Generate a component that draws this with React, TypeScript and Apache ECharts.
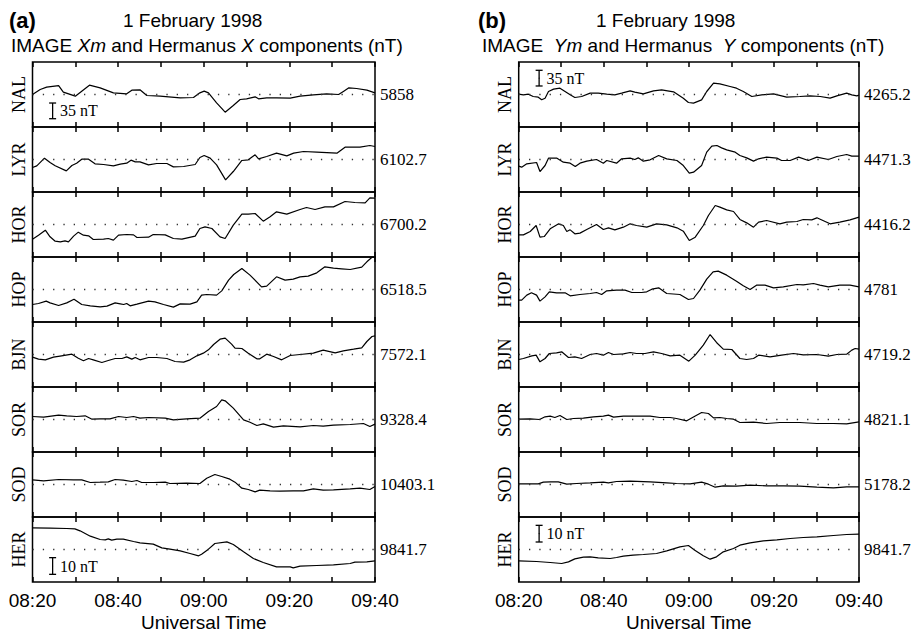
import React, { useEffect, useRef } from 'react';
import * as echarts from 'echarts';

// Station names and baseline values (nT) shown at the right of each strip
const STATIONS = ['NAL', 'LYR', 'HOR', 'HOP', 'BJN', 'SOR', 'SOD', 'HER'];
const BASE_X = ['5858', '6102.7', '6700.2', '6518.5', '7572.1', '9328.4', '10403.1', '9841.7'];
const BASE_Y = ['4265.2', '4471.3', '4416.2', '4781', '4719.2', '4821.1', '5178.2', '9841.7'];

// Time axis: minutes after 08:20 UT
const T_MIN = 0;
const T_MAX = 80;
const TICK_STEP = 10;
const LABEL_STEP = 20;

// Half ranges of each strip (nT)
const IMAGE_HALF = 72.5;
const HER_HALF = 19.5;

// Deviations from baseline, [minutes after 08:20, nT]
const NAL_X: [number, number][] = [[0,0],[1.8,11.2],[3.3,16.4],[6.1,20],[7.2,5.2],[10,-3.7],[11.5,7.4],[13.3,20.8],[15.8,14.9],[18.9,3.7],[22,1.5],[23.2,9.7],[25.1,10.4],[26.7,-2.2],[29.8,-3.7],[34.5,-7.4],[37.6,-6.7],[39.1,3.7],[40.1,7.4],[41.1,3.7],[43,-18.6],[45,-39.4],[46.9,-24.6],[48.5,-11.2],[50,-9.7],[52,-5.2],[52.8,-9.7],[54.7,-7.4],[57,-7.4],[60.2,-8.2],[62.5,-3.7],[65.6,-0.7],[68.7,1.5],[71.5,0],[72.7,7.4],[73.9,14.9],[75.7,13.4],[78.1,9.7],[80,3.7]];
const LYR_X: [number, number][] = [[0,-17.9],[1,-14.1],[2.8,3],[4.1,-6.7],[5.3,-14.1],[7.9,-25.3],[9.2,-13.4],[10.3,-8.2],[11.5,0.7],[13.1,0.7],[14.6,-9.7],[16.6,-11.2],[18.9,-14.1],[20.5,-10.4],[22,-8.2],[23,-1.5],[24,-5.2],[25.1,-5.2],[27.1,-11.9],[29,-8.9],[31.4,-8.9],[32.9,-16.4],[35.3,-15.6],[38,-11.2],[39.1,4.5],[40.1,8.9],[41.5,3],[43,-11.9],[45.1,-45.4],[46.9,-26.8],[48.9,-2.2],[50.4,-0.7],[52,10.4],[52.8,1.5],[54.7,6.7],[57,14.1],[59.4,8.2],[61,14.1],[63.3,17.9],[66.4,16.4],[71.1,14.1],[73,27.5],[76.5,27.5],[78.8,31.2],[80,29]];
const HOR_X: [number, number][] = [[0,-32.7],[1.4,-23.8],[3,-12.6],[4.1,-27.5],[5.3,-37.2],[6.5,-38.7],[7.6,-36.5],[8.4,-38.7],[9.6,-26],[10.7,-17.1],[11.9,-23.8],[13.1,-25.3],[14.2,-33.5],[16.6,-32.7],[17.7,-31.2],[18.9,-35],[20.1,-23.8],[22,-22.3],[23.6,-23.1],[24.4,-29],[27.1,-28.3],[28.2,-22.3],[31,-23.1],[32.9,-31.2],[34.9,-32.7],[38,-26],[39.1,-8.9],[40.3,-5.2],[41.9,-8.9],[43.8,-27.5],[45,-31.2],[46.9,-1.5],[48.9,23.1],[50.4,23.1],[52,24.6],[53.9,7.4],[55.5,17.1],[57,28.3],[59.4,23.1],[62.5,33.5],[64,37.9],[66,33.5],[68.3,39.4],[70.3,39.4],[73,51.3],[75.3,49.1],[77.7,48.4],[78.8,59.5],[80,58.8]];
const HOP_X: [number, number][] = [[0,-33.5],[1.4,-31.2],[3.2,-26],[4.1,-29.8],[6.1,-35.7],[8,-29.8],[9.7,-21.6],[11.5,-33.5],[13.5,-36.5],[15.8,-38.7],[17.4,-37.2],[19.3,-29.8],[20.5,-32],[21.3,-33.5],[22,-31.2],[22.8,-36.5],[24.4,-32.7],[27.1,-26],[28.6,-27.5],[30.6,-33.5],[32.9,-39.4],[34.5,-32],[36.8,-32.7],[38.4,-27.5],[39.5,-12.6],[40.7,-11.2],[43,-12.6],[44.2,-3],[45.8,20.8],[47,33.5],[48.9,46.9],[50.8,32],[53.5,6],[54.7,7.4],[57,28.3],[59,20.8],[60.9,23.1],[62.5,28.3],[64.4,29.8],[66.4,37.2],[68.3,50.6],[70.3,47.6],[72.2,46.1],[74.2,44.6],[76.9,49.8],[78.1,61.8],[79.3,72],[80,72.5]];
const BJN_X: [number, number][] = [[0,-6],[1.4,-10.4],[3,-11.9],[4.9,-6],[6.8,-3],[9.2,0.7],[10.7,-8.2],[11.9,-14.1],[13.1,-8.9],[14.2,-11.9],[16.2,-17.9],[17.7,-13.4],[19.3,-8.9],[20.9,-8.9],[22,-5.2],[23.2,-10.4],[24,-6.7],[25.1,-11.9],[27.1,-6.7],[29,-6.7],[31.4,-8.9],[33.3,-15.6],[35.3,-17.1],[36.8,-11.9],[38.4,-3],[39.9,3],[41.1,10.4],[42.3,22.3],[43.8,34.2],[45,36.5],[46.5,23.1],[47.3,14.1],[48.9,13.4],[50.4,3],[52.4,-9.7],[53.1,-9.7],[54.7,0.7],[56.3,-4.5],[58.2,-11.9],[60.2,-2.2],[62.5,0],[65.6,3],[67.9,9.7],[70.7,3.7],[72.6,8.2],[75,11.9],[76.9,14.9],[78.1,29],[79.3,40.2],[80,41.7]];
const SOR_X: [number, number][] = [[0,6.7],[2.6,5.2],[6.1,9.7],[8,8.2],[10.3,6.7],[12.3,8.2],[13.9,0.7],[15.8,1.5],[18.1,1.5],[20.1,6.7],[22,4.5],[23.6,6.7],[25.1,3],[27.1,4.5],[31,3],[32.9,-0.7],[36,1.5],[39.1,3],[41.1,17.9],[43,29],[44.2,43.9],[45,41.7],[46.9,25.3],[49.3,-0.7],[50.8,-6],[52.4,-13.4],[53.9,-9.7],[56.3,-17.1],[58.6,-14.1],[62.5,-16.4],[65.6,-13.4],[67.9,-14.9],[70.3,-12.6],[74.2,-11.2],[77.3,-8.9],[78.8,-15.6],[80,-10.4]];
const SOD_X: [number, number][] = [[0,10.4],[2.6,8.2],[6.1,11.2],[9.6,10.4],[11.5,10.4],[13.5,4.5],[15.8,5.2],[17.7,6],[19.3,11.2],[21.2,9.7],[23.2,6.7],[24.4,8.9],[25.5,4.5],[28.3,4.5],[31,5.2],[32.1,2.2],[36,3],[39.1,2.2],[40.7,14.1],[42.6,22.3],[44.2,17.9],[46.1,11.9],[47.3,5.2],[48.9,-8.2],[50.4,-11.2],[52,-16.4],[53.1,-12.6],[55.5,-14.1],[57.8,-14.9],[60.9,-14.1],[63.3,-14.1],[65.6,-9.7],[67.9,-12.6],[70.3,-11.9],[74.2,-9.7],[76.5,-8.2],[78.8,-11.2],[80,-4.5]];
const HER_X: [number, number][] = [[0,13],[4.1,12.8],[8,12.6],[9.9,12.4],[11.1,11.2],[13.5,8],[15.8,6],[17,5.8],[17.7,6.4],[18.5,5.6],[19.7,6.2],[21.2,6.2],[23.6,4.8],[25.1,4],[28.2,3.2],[30.2,1],[32.1,0.2],[34.5,-0.8],[36.8,-2.4],[38.8,-3.8],[39.5,-2.8],[41.1,0.2],[42.6,3.6],[45.4,4.6],[46.9,3],[49.3,-1.4],[51.6,-5.4],[53.9,-7.8],[57,-10.4],[60.2,-10.4],[60.9,-11],[62.5,-10],[66.4,-9.6],[70.3,-9.2],[74.2,-8.4],[75.3,-7.6],[78.1,-7.4],[80,-6.8]];

const NAL_Y: [number, number][] = [[0,0.7],[1.1,-0.7],[2.3,0.7],[3.4,-4.5],[4.6,-6],[5.4,-11.9],[6.2,-8.2],[7,6.7],[8.2,11.9],[9.7,14.1],[10.9,6.7],[12.1,-0.7],[13.2,-6.7],[14.8,-4.5],[16.8,3],[18.7,3],[20.7,0.7],[22.6,-0.7],[24.2,3],[26.2,8.2],[27.3,5.2],[29.3,1.5],[31.7,8.2],[33.6,10.4],[36.4,6],[38.7,-8.2],[39.9,-17.9],[41.1,-19.3],[43,-11.9],[44.2,6.7],[45.8,25.3],[47.3,23.8],[49.7,17.9],[51.2,14.1],[52.8,6.7],[54.8,-4.5],[57.1,-0.7],[59.9,1.5],[63,-6],[66.1,-4.5],[68.5,-3],[70.9,-4.5],[73.2,-8.2],[74.8,-3],[77.1,3],[78.3,-0.7],[79.5,-3],[80,-1.5]];
const LYR_Y: [number, number][] = [[0,-14.9],[0.7,-17.1],[1.9,-9.7],[4.2,-6.7],[5,-26.8],[6.2,-13.4],[7,3],[9,3],[10.5,-6],[12.1,-8.2],[13.3,-15.6],[14.4,-8.2],[16,-3.7],[18.3,0],[19.9,-8.2],[20.7,-2.2],[23,-8.2],[24.2,1.5],[26.2,3],[27.3,0],[28.1,3.7],[29.3,-3.7],[30.9,-0.7],[32.9,8.9],[34.8,1.5],[37.2,-2.2],[38.7,-13.4],[40.1,-30.5],[41.1,-28.3],[43,-13.4],[44.2,16.4],[45.4,29.8],[46.6,31.2],[47.7,26],[48.9,21.6],[50.9,16.4],[52,8.9],[53.6,3.7],[55.2,-3.7],[56.4,1.5],[58.3,5.2],[60.7,3],[61.8,-2.2],[63.8,-2.2],[65.8,5.2],[68.1,-2.2],[70.1,5.2],[72.8,0],[74.8,6.7],[77.1,11.2],[78.3,7.4],[80,7.4]];
const HOR_Y: [number, number][] = [[0,-23.1],[1.1,-23.1],[2.7,-15.6],[4.1,-2.2],[5,-28.3],[6,-26.8],[7.4,-9.7],[9.4,1.5],[10.5,-2.2],[11.3,-15.6],[12.1,-11.9],[13.2,-20.8],[14.4,-19.3],[16,-11.2],[18.3,0],[19.9,-11.2],[21.1,-7.4],[22.6,-11.9],[24.6,-6],[26.2,1.5],[27.7,-2.2],[30.1,-6],[32.4,1.5],[34.8,-0.7],[37.2,-7.4],[38.7,-14.9],[40.1,-35.7],[41.5,-28.3],[43.4,-2.2],[44.6,20.1],[46.2,42.4],[47.3,38.7],[48.9,32.7],[50.5,29],[52,11.2],[53.6,3.7],[55.2,-6],[56.4,5.2],[58.3,8.9],[61.4,1.5],[63,5.2],[65.4,6.7],[66.9,11.2],[68.9,10.4],[70.1,14.9],[73.2,1.5],[75.5,5.2],[77.9,10.4],[80,16.4]];
const HOP_Y: [number, number][] = [[0,-23.8],[0.7,-23.8],[1.9,-12.6],[3,-7.4],[4.2,-12.6],[5,-26],[6.2,-16.4],[7.2,-5.2],[8.9,-7.4],[10.9,-7.4],[12.1,-14.1],[14.4,-11.2],[16.8,-8.9],[18.3,-6.7],[19.5,-11.2],[20.7,-3],[23,-1.5],[25,-1.5],[26.6,-6.7],[28.9,-6.7],[30.1,-5.2],[31.3,0.7],[32.9,3.7],[34.8,-8.9],[37.9,-11.2],[39.9,-22.3],[41.1,-20.1],[42.6,-1.5],[44.2,23.1],[45.7,39.4],[46.9,40.9],[48.9,32],[51.2,18.6],[52.8,8.2],[54.4,0],[55.9,9.7],[57.9,9.7],[59.9,3.7],[62.2,6],[65.4,11.2],[66.9,10.4],[69.3,13.4],[70.8,9.7],[72.8,6],[75.5,9.7],[77.9,9.7],[80,6]];
const BJN_Y: [number, number][] = [[0,-11.2],[1.1,-8.9],[3.1,-3],[4.1,-1.5],[5,-16.4],[6.2,-8.9],[7.2,2.2],[8.9,3.7],[10.1,6],[11.7,-6.7],[13.2,-5.2],[14.8,-8.9],[16.8,0],[18.3,2.2],[19.9,-1.5],[21.1,4.5],[22.3,0],[24.6,1.5],[26.2,4.5],[27.7,2.2],[29.7,2.2],[31.7,6],[33.6,2.2],[35.6,-3],[37.9,-1.5],[40,-14.9],[41.5,-1.5],[43.4,20.8],[45,44.6],[46.5,26.8],[48.1,11.9],[50.1,11.2],[52,-8.9],[53.6,-11.2],[55.2,-8.9],[56.4,-1.5],[59.1,-5.2],[61.8,-1.5],[64.6,2.2],[66.9,-0.7],[70.1,0],[72.8,-3.7],[74.8,0],[77.1,0.7],[78.3,9.7],[79.1,13.4],[80,11.9]];
const SOR_Y: [number, number][] = [[0,0.7],[2.7,1.5],[4.9,0],[6.2,6],[7.4,7.4],[8.5,4.5],[9.7,8.9],[11.3,0],[12.9,2.2],[15.2,3],[17.6,6],[19.9,7.4],[21.1,9.7],[22.3,5.2],[24.6,7.4],[27.7,7.4],[30.9,7.4],[33.2,4.5],[35.6,4.5],[37.1,2.2],[39.5,-3],[41.4,7.4],[43,15.6],[44.6,13.4],[45.8,3.7],[47.3,4.5],[48.9,2.2],[50.5,0.7],[52,-6.7],[55.2,-6],[58.3,-8.9],[61.4,-6.7],[66.1,-6.7],[70.1,-8.9],[74,-8.9],[77.1,-9.7],[80,-5.2]];
const SOD_Y: [number, number][] = [[0,1.5],[4.6,1.5],[5.8,5.2],[7.4,6],[9.3,6],[11.3,0.7],[13.6,2.2],[16.8,3.7],[19.9,5.2],[21.1,3.7],[23,6.7],[26.2,7.4],[30.9,6],[34.8,3.7],[37.1,2.2],[40.3,1.5],[43,5.2],[44.6,0.7],[46.2,-6],[48.1,-3],[51.2,-3.7],[54.4,-1.5],[58.3,-3],[62.2,-3],[66.1,-3.7],[70.1,-6],[74,-7.4],[77.1,-5.2],[80,-5.2]];
const HER_Y: [number, number][] = [[0,-6.8],[4.2,-7.2],[7.4,-7.8],[10.1,-8.4],[11.7,-7.4],[13.2,-5.6],[15.2,-4.6],[16.8,-4.4],[18.7,-5],[21.5,-5.4],[23,-4.8],[24.6,-4],[26.9,-3.4],[29.3,-3],[32.4,-2.4],[34.8,-0.8],[37.9,1.6],[39.9,2.4],[41.4,-0.4],[43.4,-3.8],[45,-5.8],[46.5,-4.4],[48.1,-1.4],[50.5,0.6],[52,2.6],[54.4,4],[57.5,5.2],[60.7,5.8],[63.8,6.6],[66.9,7.2],[70.1,7.6],[74,8.4],[77.1,9],[80,9.2]];

const X_DATA = [NAL_X, LYR_X, HOR_X, HOP_X, BJN_X, SOR_X, SOD_X, HER_X];
const Y_DATA = [NAL_Y, LYR_Y, HOR_Y, HOP_Y, BJN_Y, SOR_Y, SOD_Y, HER_Y];

// Scale bars: [panel, row, time, from nT, to nT, label]
const SCALE_BARS: [number, number, number, number, number, string][] = [
  [0, 0, 4.7, -19, -54, '35 nT'],
  [0, 7, 4.7, -4.9, -14.9, '10 nT'],
  [1, 0, 4.8, 54, 19, '35 nT'],
  [1, 7, 4.8, 14.5, 4.5, '10 nT'],
];

const SANS = 'Liberation Sans, Arial, sans-serif';
const SERIF = 'Liberation Serif, Times New Roman, serif';

const PANELS = [
  { left: 32.5, width: 342.5, data: X_DATA, bases: BASE_X },
  { left: 518.7, width: 340.3, data: Y_DATA, bases: BASE_Y },
];
const TOP0 = 62;
const ROW_H = 65;

function fmtTime(v: number): string {
  const t = 8 * 60 + 20 + Math.round(v);
  const h = Math.floor(t / 60);
  const m = t % 60;
  return String(h).padStart(2, '0') + ':' + String(m).padStart(2, '0');
}

function buildOption() {
  const grid: any[] = [];
  const xAxis: any[] = [];
  const yAxis: any[] = [];
  const series: any[] = [];

  PANELS.forEach((p, pi) => {
    STATIONS.forEach((st, i) => {
      const g = pi * 8 + i;
      const half = st === 'HER' ? HER_HALF : IMAGE_HALF;
      const last = i === STATIONS.length - 1;
      grid.push({
        left: p.left, width: p.width, top: TOP0 + ROW_H * i, height: ROW_H,
        containLabel: false, outerBoundsMode: 'none',
        show: true, borderColor: '#000', borderWidth: 1.5, backgroundColor: 'transparent',
      });
      const tick = { show: true, inside: true, length: 5, lineStyle: { color: '#000', width: 1.5 } };
      xAxis.push({
        type: 'value', gridIndex: g, position: 'bottom', min: T_MIN, max: T_MAX, interval: TICK_STEP,
        axisLine: { show: false, onZero: false }, axisTick: tick, splitLine: { show: false },
        axisLabel: {
          show: last, margin: 9, color: '#000', fontSize: 19, fontFamily: SANS,
          formatter: (v: number) => (v % LABEL_STEP === 0 ? fmtTime(v) : ''),
        },
        name: last ? 'Universal Time' : '', nameLocation: 'middle', nameGap: 31,
        nameTextStyle: { color: '#000', fontSize: 19, fontFamily: SANS },
      });
      xAxis.push({
        type: 'value', gridIndex: g, position: 'top', min: T_MIN, max: T_MAX, interval: TICK_STEP,
        axisLine: { show: false, onZero: false }, axisTick: tick, splitLine: { show: false }, axisLabel: { show: false },
      });
      yAxis.push({
        type: 'value', gridIndex: g, position: 'left', min: -half, max: half,
        axisLine: { show: false, onZero: false }, axisTick: { show: false }, axisLabel: { show: false }, splitLine: { show: false },
        name: st, nameLocation: 'middle', nameRotate: 90, nameGap: 5,
        nameTextStyle: { color: '#000', fontSize: 18, fontFamily: SERIF },
      });
      yAxis.push({
        type: 'value', gridIndex: g, position: 'right', min: -half, max: half, interval: half,
        axisLine: { show: false, onZero: false }, axisTick: { show: false }, splitLine: { show: false },
        axisLabel: {
          margin: 5, color: '#000', fontSize: 17, fontFamily: SERIF,
          formatter: (v: number) => (Math.abs(v) < 1e-9 ? p.bases[i] : ''),
        },
      });
      series.push({
        type: 'line', xAxisIndex: 2 * g, yAxisIndex: 2 * g, data: p.data[i],
        symbol: 'none', clip: true, lineStyle: { color: '#000', width: 1.2 },
        markLine: {
          silent: true, symbol: 'none', label: { show: false },
          lineStyle: { type: [1.3, 9], color: '#333', width: 1.3 },
          data: [{ yAxis: 0 }],
        },
      });
    });
  });

  SCALE_BARS.forEach(([pi, row, t, a, b, txt]) => {
    const g = pi * 8 + row;
    series.push({
      type: 'line', xAxisIndex: 2 * g, yAxisIndex: 2 * g,
      symbol: 'rect', symbolSize: [7, 1.3], showSymbol: true,
      itemStyle: { color: '#000' }, lineStyle: { color: '#000', width: 1.3 },
      data: [
        { value: [t, a] },
        { value: [t, (a + b) / 2], symbol: 'circle', symbolSize: 1,
          label: { show: true, position: 'right', distance: 7, formatter: txt, color: '#000', fontSize: 16, fontFamily: SERIF } },
        { value: [t, b] },
      ],
    });
  });

  const titleBase = { padding: 0 };
  const t1 = { color: '#000', fontSize: 19, fontWeight: 'normal', fontFamily: SANS };
  const title = [
    { ...titleBase, text: '(a)', left: 9, top: 9, textStyle: { ...t1, fontSize: 22, fontWeight: 'bold' } },
    { ...titleBase, text: '1 February 1998', left: 123, top: 11, textStyle: t1 },
    { ...titleBase, text: 'IMAGE {i|Xm} and Hermanus {i|X} components (nT)', left: 11, top: 36,
      textStyle: { ...t1, rich: { i: { ...t1, fontStyle: 'italic' } } } },
    { ...titleBase, text: '(b)', left: 478, top: 9, textStyle: { ...t1, fontSize: 22, fontWeight: 'bold' } },
    { ...titleBase, text: '1 February 1998', left: 596, top: 11, textStyle: t1 },
    { ...titleBase, text: 'IMAGE  {i|Ym} and Hermanus  {i|Y} components (nT)', left: 482, top: 36,
      textStyle: { ...t1, rich: { i: { ...t1, fontStyle: 'italic' } } } },
  ];

  return { animation: false, backgroundColor: '#fff', title, grid, xAxis, yAxis, series };
}

export default function App() {
  const ref = useRef<HTMLDivElement>(null);
  useEffect(() => {
    if (!ref.current) return;
    const chart = echarts.init(ref.current, undefined, { renderer: 'svg' });
    chart.setOption(buildOption() as any);
    return () => chart.dispose();
  }, []);
  return <div ref={ref} style={{ position: 'absolute', left: 0, top: 0, width: 911, height: 636 }} />;
}
